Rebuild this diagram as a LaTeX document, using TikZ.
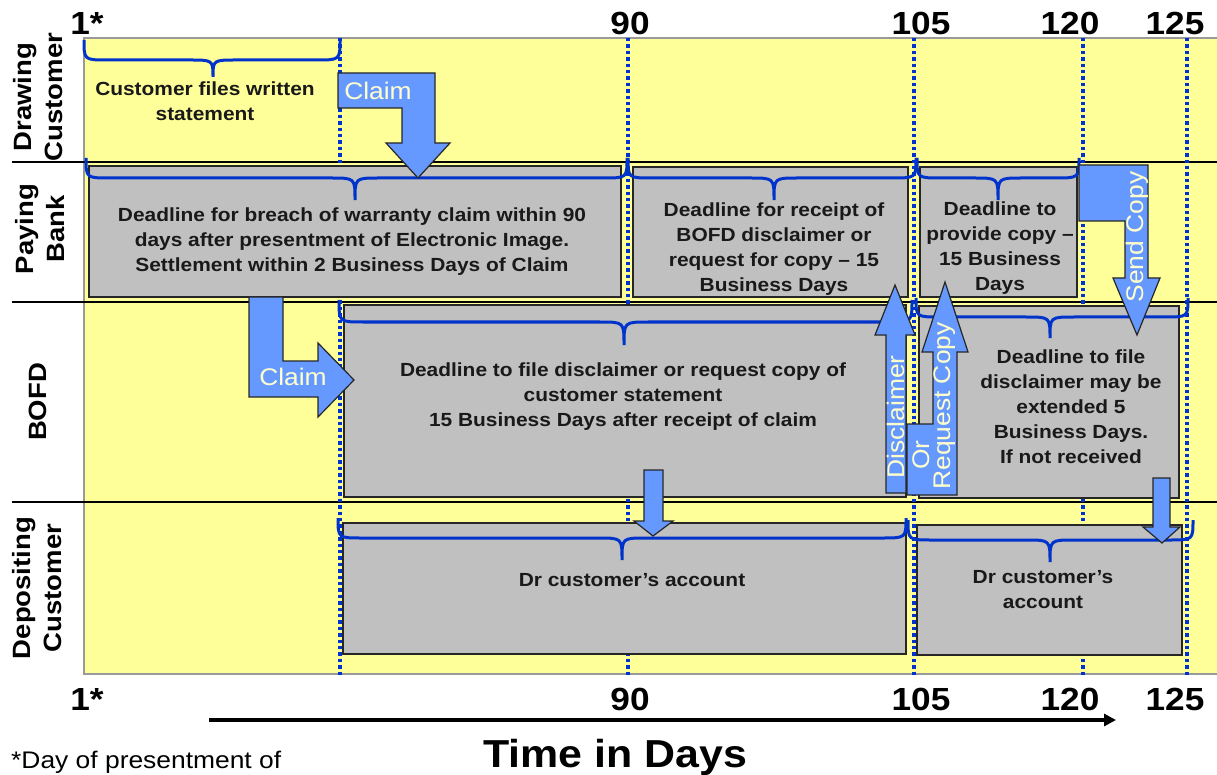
\documentclass[tikz,border=0pt]{standalone}
\usepackage{fontspec}
\setmainfont{Liberation Sans}[FakeStretch=1.1]
\usepackage{xcolor}
\definecolor{laneyellow}{RGB}{255, 255, 153}
\definecolor{boxgray}{RGB}{192, 192, 192}
\definecolor{arrowblue}{RGB}{102, 153, 255}
\definecolor{braceblue}{RGB}{  0,  51, 204}
\definecolor{paleyellow}{RGB}{255, 255, 204}
\usepackage{tikz}
\usetikzlibrary{arrows.meta, fit}

\tikzset{
  lane/.style={font=\bfseries\fontsize{25}{31}\selectfont, rotate=90, align=center},
  daynum/.style={font=\bfseries\fontsize{32}{32}\selectfont, anchor=base},
  gbox/.style={draw=black!85, line width=1.5pt, fill=boxgray, inner sep=0pt},
  note/.style={font=\bfseries\fontsize{19}{25}\selectfont, align=center, text=black!90},
  bluebrace/.style={draw=braceblue, line width=3pt},
  daymark/.style={draw=braceblue, line width=3.6pt, dash pattern=on 3.4pt off 3pt},
  blockarrow/.style={fill=arrowblue, draw=black!85, line width=1.2pt},
  arrowlabel/.style={font=\fontsize{24}{26}\selectfont, text=paleyellow}
}

\newcommand{\daybrace}[6]{%
  \draw[bluebrace] (#1,#3) .. controls (#1,#4) .. ({#1+24},#4) -- ({#5-24},#4)
    .. controls (#5,#4) .. (#5,#6) .. controls (#5,#4) .. ({#5+24},#4)
    -- ({#2-24},#4) .. controls (#2,#4) .. (#2,#3);}

\begin{document}
\begin{tikzpicture}[x=1pt, y=-1pt]
    \useasboundingbox (0,0) rectangle (1217,775);

    % swim lanes
    \fill[laneyellow] (84,38) rectangle (1217,674);
    \draw[gray!80, line width=1.5pt] (1217,38) -- (84,38) -- (84,674) -- (1217,674);
    \foreach \y in {162,302,502}
      \draw[black, line width=1.5pt] (12,\y) -- (1217,\y);
    \foreach \x in {340,628,914,1083,1187}
      \draw[daymark] (\x,38) -- (\x,676);

    \node[lane] (drawing) at (38,97) {Drawing\\Customer};
    \node[lane] (paying) at (40,229) {Paying\\Bank};
    \node[lane] (bofd) at (38,402) {BOFD};
    \node[lane] (depositing) at (37,588) {Depositing\\Customer};

    \foreach \x/\d [count=\i] in {87/1*,630/90,921/105,1070/120,1175/125} {
      \node[daynum] (top\i) at (\x,35) {\d};
      \node[daynum] (bot\i) at (\x,710) {\d};
    }

    % deadline boxes
    \node[gbox, fit={(89,166) (621,297)}] (pb1) {};
    \node[gbox, fit={(633,167) (908,297)}] (pb2) {};
    \node[gbox, fit={(920,167) (1077,297)}] (pb3) {};
    \node[gbox, fit={(344,305) (906,497)}] (bf1) {};
    \node[gbox, fit={(919,306) (1179,498)}] (bf2) {};
    \node[gbox, fit={(343,523) (906,654)}] (dc1) {};
    \node[gbox, fit={(917,525) (1182,655)}] (dc2) {};

    \daybrace{84}{340}{40}{60}{213}{77}
    \daybrace{86}{627}{158}{178}{355}{200}
    \daybrace{628}{916}{158}{178}{774}{200}
    \daybrace{917}{1079}{158}{178}{998}{200}
    \daybrace{339}{912}{300}{322}{624}{345}
    \daybrace{916}{1188}{298}{317}{1050}{338}
    \daybrace{338}{906}{518}{538}{622}{560}
    \daybrace{908}{1193}{520}{540}{1050}{562}

    \node[note] (dctxt) at (205,101) {Customer files written\\statement};
    \node[note] (pb1txt) at (352,242) {Deadline for breach of warranty claim within 90\\days after presentment of Electronic Image.\\Settlement within 2 Business Days of Claim};
    \node[note] (pb2txt) at (774,249) {Deadline for receipt of\\BOFD disclaimer or\\request for copy – 15\\Business Days};
    \node[note] (pb3txt) at (1000,248) {Deadline to\\provide copy –\\15 Business\\Days};
    \node[note] (bf1txt) at (623,397) {Deadline to file disclaimer or request copy of\\customer statement\\15 Business Days after receipt of claim};
    \node[note] (bf2txt) at (1071,407) {Deadline to file\\disclaimer may be\\extended 5\\Business Days.\\If not received};
    \node[note] (dc1txt) at (632,580) {Dr customer’s account};
    \node[note] (dc2txt) at (1043,590) {Dr customer’s\\account};

    % block arrows
    \draw[blockarrow] (338,73) -- (435,73) -- (435,143) -- (450,143) -- (418,178) -- (386,143)
      -- (402,143) -- (402,108) -- (338,108) -- cycle;
    \node[arrowlabel] (claimtop) at (378,91) {Claim};
    \draw[blockarrow] (249,297) -- (283,297) -- (283,361) -- (318,361) -- (318,343) -- (354,380)
      -- (318,417) -- (318,397) -- (249,397) -- cycle;
    \node[arrowlabel] (claimbofd) at (293,377) {Claim};
    \draw[blockarrow] (644,470) -- (663,470) -- (663,521) -- (673,521) -- (653,536) -- (634,521)
      -- (644,521) -- cycle;
    \draw[blockarrow] (886,493) -- (906,493) -- (906,335) -- (915,335) -- (895,285) -- (875,335)
      -- (886,335) -- cycle;
    \draw[blockarrow] (907,495) -- (957,495) -- (957,352) -- (968,352) -- (945,282) -- (922,352)
      -- (933,352) -- (933,424) -- (907,424) -- cycle;
    \node[arrowlabel, rotate=90] (disclaimer) at (896,417) {Disclaimer};
    \node[arrowlabel, rotate=90] (orlabel) at (921,455) {Or};
    \node[arrowlabel, rotate=90] (request) at (945,406) {Request Copy};
    \draw[blockarrow] (1079,165) -- (1148,165) -- (1148,278) -- (1160,278) -- (1137,335) -- (1113,278)
      -- (1125,278) -- (1125,221) -- (1079,221) -- cycle;
    \node[arrowlabel, rotate=90] (sendcopy) at (1137,237) {Send Copy};
    \draw[blockarrow] (1153,478) -- (1170,478) -- (1170,527) -- (1180,527) -- (1162,543) -- (1143,527)
      -- (1153,527) -- cycle;

    % time axis
    \coordinate (tstart) at (209,720);
    \coordinate (tend) at (1116,720);
    \draw[line width=3.5pt, -{Triangle[length=12pt, width=12pt]}] (tstart) -- (tend);
    \node[font=\bfseries\fontsize{39}{39}\selectfont, anchor=base] (timelabel) at (615,767) {Time in Days};
    \node[font=\fontsize{24}{24}\selectfont, anchor=base west, inner sep=0pt] (footnote) at (11,768) {*Day of presentment of};
\end{tikzpicture}
\end{document}
